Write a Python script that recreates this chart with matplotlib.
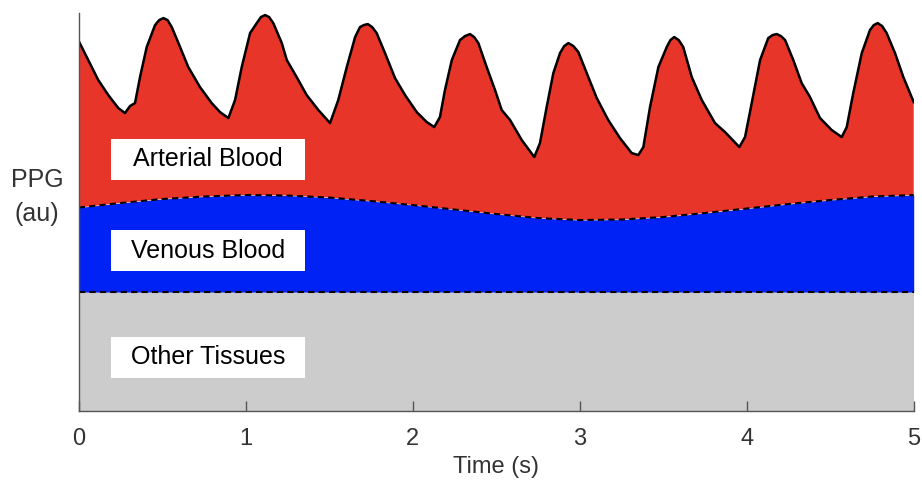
import numpy as np
import matplotlib
matplotlib.use('Agg')
import matplotlib.pyplot as plt
from matplotlib.patches import Rectangle

plt.rcParams['font.family'] = ['Liberation Sans', 'DejaVu Sans']

# PPG 波形（动脉血上边界），时间 s / 幅值 au
ppg_t = [0.00, 0.057, 0.117, 0.177, 0.237, 0.277, 0.307, 0.337, 0.367, 0.407,
         0.457, 0.482, 0.507, 0.532, 0.557, 0.607, 0.656, 0.726, 0.796, 0.846,
         0.896, 0.936, 0.976, 1.026, 1.066, 1.091, 1.116, 1.140, 1.165, 1.216,
         1.246, 1.305, 1.365, 1.435, 1.505, 1.554, 1.605, 1.655, 1.684, 1.707,
         1.731, 1.757, 1.784, 1.834, 1.894, 1.954, 2.024, 2.084, 2.129, 2.163,
         2.193, 2.234, 2.283, 2.313, 2.343, 2.368, 2.393, 2.443, 2.493, 2.533,
         2.583, 2.653, 2.728, 2.762, 2.802, 2.842, 2.882, 2.907, 2.932, 2.962,
         2.992, 3.042, 3.102, 3.171, 3.241, 3.311, 3.351, 3.381, 3.421, 3.471,
         3.521, 3.543, 3.566, 3.593, 3.620, 3.671, 3.731, 3.810, 3.870, 3.956,
         3.990, 4.030, 4.080, 4.129, 4.155, 4.180, 4.205, 4.230, 4.279, 4.329,
         4.379, 4.439, 4.509, 4.569, 4.599, 4.638, 4.689, 4.738, 4.761, 4.784,
         4.811, 4.838, 4.888, 4.938, 5.000]
ppg_v = [3.70, 3.51, 3.31, 3.16, 3.03, 2.98, 3.05, 3.08, 3.34, 3.64,
         3.86, 3.91, 3.93, 3.91, 3.84, 3.64, 3.44, 3.24, 3.08, 2.99,
         2.93, 3.11, 3.44, 3.78, 3.88, 3.94, 3.96, 3.94, 3.88, 3.68,
         3.51, 3.34, 3.16, 3.01, 2.88, 3.11, 3.44, 3.74, 3.84, 3.86,
         3.87, 3.84, 3.78, 3.58, 3.33, 3.16, 2.99, 2.89, 2.84, 2.94,
         3.21, 3.51, 3.71, 3.75, 3.77, 3.74, 3.68, 3.44, 3.21, 3.01,
         2.91, 2.71, 2.54, 2.68, 3.04, 3.38, 3.58, 3.65, 3.68, 3.65,
         3.59, 3.38, 3.13, 2.91, 2.73, 2.58, 2.56, 2.64, 3.04, 3.44,
         3.64, 3.71, 3.74, 3.71, 3.64, 3.34, 3.11, 2.88, 2.79, 2.64,
         2.74, 3.08, 3.51, 3.73, 3.76, 3.77, 3.75, 3.71, 3.51, 3.28,
         3.14, 2.93, 2.81, 2.74, 2.84, 3.18, 3.58, 3.81, 3.86, 3.88,
         3.85, 3.78, 3.58, 3.34, 3.09]

# 静脉血上边界
venous_t = [0.00, 0.25, 0.50, 0.75, 1.00, 1.25, 1.50, 1.75, 2.00, 2.25, 2.50,
            2.75, 3.00, 3.25, 3.50, 3.75, 4.00, 4.25, 4.50, 4.75, 5.00]
venous_v = [2.035, 2.08, 2.12, 2.145, 2.16, 2.155, 2.135, 2.10, 2.06, 2.015, 1.97,
            1.93, 1.91, 1.915, 1.94, 1.98, 2.025, 2.07, 2.11, 2.145, 2.16]

# 其他组织（常数层）
tissue_level = 1.19

layer_labels = ['Arterial Blood', 'Venous Blood', 'Other Tissues']
layer_label_y = [2.52, 1.605, 0.538]

x_ticks = [0, 1, 2, 3, 4, 5]

red = '#E8352A'
blue = '#0022F5'
grey = '#CCCCCC'

fig = plt.figure(figsize=(9.22, 4.8), dpi=100)
ax = fig.add_axes([0.0854, 0.14375, 0.9056, 0.829])

vt = np.array(venous_t)
vv = np.array(venous_v)
pt = np.array(ppg_t)
pv = np.array(ppg_v)

# 灰色：其他组织
ax.fill_between(vt, 0, tissue_level, color=grey, linewidth=0)
# 蓝色：静脉血
ax.fill_between(vt, tissue_level, vv, color=blue, linewidth=0)
# 红色：动脉血（PPG 曲线与静脉边界之间）
ax.fill(np.concatenate([pt, vt[::-1]]), np.concatenate([pv, vv[::-1]]),
        color=red, linewidth=0)

ax.plot(pt, pv, color='black', linewidth=1.8, solid_joinstyle='round')
ax.plot(vt, vv, color='black', linewidth=1.5, linestyle=(0, (3, 2)))
ax.plot([0, 5], [tissue_level, tissue_level], color='black', linewidth=1.5,
        linestyle=(0, (3, 2)))

# 白色标签框
for label, yc in zip(layer_labels, layer_label_y):
    ax.add_patch(Rectangle((0.195, yc - 0.205), 1.16, 0.41, facecolor='white',
                           edgecolor='none', zorder=3))
    ax.text(0.775, yc, label, ha='center', va='center', fontsize=18,
            color='black', zorder=4)

ax.set_xlim(0, 5)
ax.set_ylim(0, 3.98)
ax.set_xticks(x_ticks)
ax.set_xticklabels([str(t) for t in x_ticks])
ax.set_yticks([])

for side in ['top', 'right']:
    ax.spines[side].set_visible(False)
for side in ['left', 'bottom']:
    ax.spines[side].set_color('#555555')
    ax.spines[side].set_linewidth(1.0)

ax.tick_params(axis='x', direction='in', length=7, width=1.0, color='#555555',
               labelsize=17, labelcolor='#333333', pad=12.5)

ax.set_xlabel('Time (s)', fontsize=17, color='#333333', labelpad=4)
fig.text(0.040, 0.59, 'PPG\n(au)', ha='center', va='center', fontsize=18,
         color='#333333', linespacing=1.5)

plt.savefig('out.png', dpi=100, facecolor='white')
